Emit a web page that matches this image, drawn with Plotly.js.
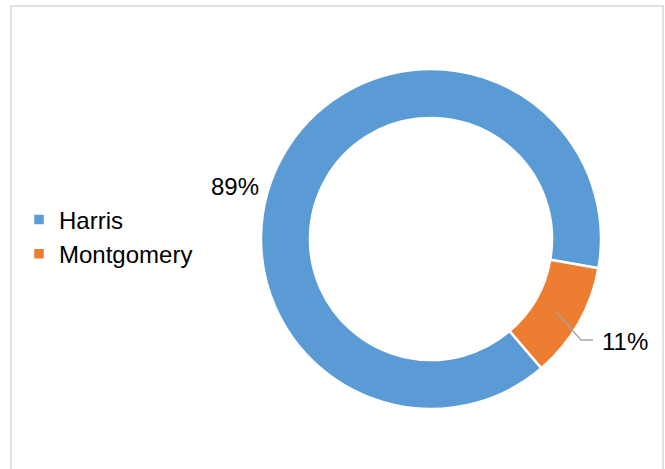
<!DOCTYPE html>
<html>
<head>
<meta charset="utf-8">
<script src="https://cdn.plot.ly/plotly-3.0.1.min.js"></script>
<style>
html,body{margin:0;padding:0;background:#fff;}
#chart{width:665px;height:469px;}
</style>
</head>
<body>
<div id="chart"></div>
<script>
const categories = ["Harris", "Montgomery"];
const values = [89, 11];
const colors = ["#5B9BD5", "#ED7D31"];

const total = values.reduce((a, b) => a + b, 0);
const pctLabels = values.map(v => Math.round(v / total * 100) + "%");

const W = 665, H = 469;
const FONT = "Liberation Sans, Arial, sans-serif";

const trace = {
  type: "pie",
  labels: categories,
  values: values,
  hole: 0.712,
  sort: false,
  direction: "clockwise",
  rotation: 139.5,
  textinfo: "none",
  hoverinfo: "label+percent",
  marker: { colors: colors, line: { color: "#FFFFFF", width: 2.5 } },
  domain: { x: [261 / W, 601 / W], y: [60 / H, 400 / H] },
  showlegend: true
};

const layout = {
  width: W,
  height: H,
  margin: { l: 0, r: 0, t: 0, b: 0 },
  paper_bgcolor: "#FFFFFF",
  font: { family: FONT, size: 24, color: "#000000" },
  showlegend: true,
  legend: {
    x: 19 / W, xanchor: "left",
    y: (H - 237) / H, yanchor: "middle",
    font: { family: FONT, size: 24, color: "#000000" },
    bgcolor: "rgba(0,0,0,0)",
    itemclick: false
  },
  annotations: [
    { text: pctLabels[0], x: 235.5 / W, y: (H - 186) / H, xref: "paper", yref: "paper",
      showarrow: false, xanchor: "center", yanchor: "middle", font: { family: FONT, size: 24, color: "#000000" } },
    { text: pctLabels[1], x: 625 / W, y: (H - 341) / H, xref: "paper", yref: "paper",
      showarrow: false, xanchor: "center", yanchor: "middle", font: { family: FONT, size: 24, color: "#000000" } }
  ],
  shapes: [
    { type: "rect", xref: "paper", yref: "paper", x0: 11 / W, x1: 663 / W, y0: -0.05, y1: (H - 6) / H,
      line: { color: "#D9D9D9", width: 1.5 }, fillcolor: "rgba(0,0,0,0)", layer: "below" },
    { type: "path", xref: "paper", yref: "paper",
      path: "M " + (556 / W) + "," + ((H - 311.7) / H) + " L " + (581 / W) + "," + ((H - 340) / H) + " L " + (593 / W) + "," + ((H - 340) / H),
      line: { color: "#A6A6A6", width: 1.3 } }
  ]
};

Plotly.newPlot("chart", [trace], layout, { displayModeBar: false, staticPlot: true });
</script>
</body>
</html>
